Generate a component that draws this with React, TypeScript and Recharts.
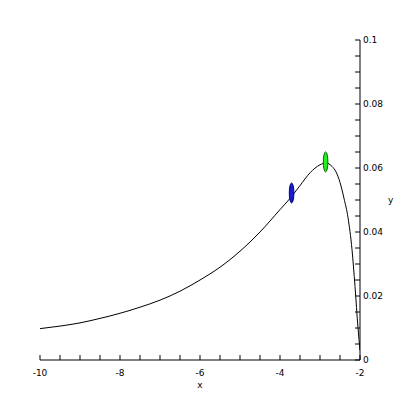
import React from "react";
import { ComposedChart, Line, Scatter, XAxis, YAxis } from "recharts";

const xs = [-10, -9.5, -9, -8.5, -8, -7.5, -7, -6.5, -6, -5.5, -5, -4.5, -4, -3.75, -3.5, -3.25, -3, -2.85, -2.7, -2.6, -2.5, -2.4, -2.3, -2.2, -2.125, -2.05, -2.0];
const ys = [0.0098, 0.0106, 0.0116, 0.013, 0.0146, 0.0165, 0.0187, 0.0215, 0.025, 0.029, 0.034, 0.04, 0.047, 0.0505, 0.0545, 0.0585, 0.061, 0.0616, 0.0605, 0.0588, 0.0555, 0.0505, 0.0445, 0.0345, 0.023, 0.01, 0.003];

const markerX = [-3.71, -2.86];
const markerY = [0.0522, 0.0619];
const markerFill = ["#1a1ad0", "#22ee22"];
const markerStroke = ["#000080", "#007000"];

const xTicks = [-10, -9.5, -9, -8.5, -8, -7.5, -7, -6.5, -6, -5.5, -5, -4.5, -4, -3.5, -3, -2.5, -2];
const xLabels = [-10, -8, -6, -4, -2];
const yTicks = [0, 0.005, 0.01, 0.015, 0.02, 0.025, 0.03, 0.035, 0.04, 0.045, 0.05, 0.055, 0.06, 0.065, 0.07, 0.075, 0.08, 0.085, 0.09, 0.095, 0.1];
const yLabels = ["0", "0.02", "0.04", "0.06", "0.08", "0.1"];

const curve = xs.map((x, i) => ({ x, y: ys[i] }));
const markers = markerX.map((x, i) => ({ x, y: markerY[i], i }));

const FONT = "'DejaVu Sans', sans-serif";

const XTick = (props: any) => {
  const { x, y, payload } = props;
  const v = payload.value;
  const isLabel = xLabels.some((l) => Math.abs(l - v) < 1e-9);
  return (
    <g>
      <line x1={x} x2={x} y1={y} y2={y - 5} stroke="#000" />
      {isLabel && (
        <text x={x} y={y + 16} textAnchor="middle" fontSize={9} fontFamily={FONT} fill="#000">
          {String(v)}
        </text>
      )}
    </g>
  );
};

const YTick = (props: any) => {
  const { x, y, payload } = props;
  const v = payload.value;
  const idx = yLabels.findIndex((l) => Math.abs(parseFloat(l) - v) < 1e-9);
  return (
    <g>
      <line x1={x} x2={x - 5} y1={y} y2={y} stroke="#000" />
      {idx >= 0 && (
        <text x={x + 3} y={y + 3} textAnchor="start" fontSize={9} fontFamily={FONT} fill="#000">
          {yLabels[idx]}
        </text>
      )}
    </g>
  );
};

const Ellipse = (props: any) => {
  const { cx, cy, payload } = props;
  const i = payload.i;
  return <ellipse cx={cx} cy={cy} rx={2.3} ry={10} fill={markerFill[i]} stroke={markerStroke[i]} strokeWidth={1} />;
};

export default function App() {
  return (
    <div style={{ position: "absolute", left: 0, top: 0, width: 400, height: 400, background: "#fff" }}>
      <ComposedChart width={400} height={400} margin={{ top: 40, left: 40, right: 0, bottom: 0 }}>
        <XAxis
          dataKey="x"
          type="number"
          domain={[-10, -2]}
          ticks={xTicks}
          interval={0}
          tick={<XTick />}
          tickLine={false}
          tickSize={0}
          tickMargin={0}
          height={40}
          axisLine={{ stroke: "#000" }}
          allowDataOverflow
          label={{ value: "x", position: "insideTop", offset: 22, fontSize: 9, fontFamily: FONT, fill: "#000" }}
        />
        <YAxis
          dataKey="y"
          type="number"
          orientation="right"
          domain={[0, 0.1]}
          ticks={yTicks}
          interval={0}
          tick={<YTick />}
          tickLine={false}
          tickSize={0}
          tickMargin={0}
          width={40}
          axisLine={{ stroke: "#000" }}
          allowDataOverflow
          label={{ value: "y", position: "insideLeft", offset: 28, fontSize: 9, fontFamily: FONT, fill: "#000" }}
        />
        <Scatter data={markers} dataKey="y" shape={<Ellipse />} isAnimationActive={false} />
        <Line data={curve} dataKey="y" type="monotone" stroke="#000" strokeWidth={1} dot={false} isAnimationActive={false} />
      </ComposedChart>
    </div>
  );
}
